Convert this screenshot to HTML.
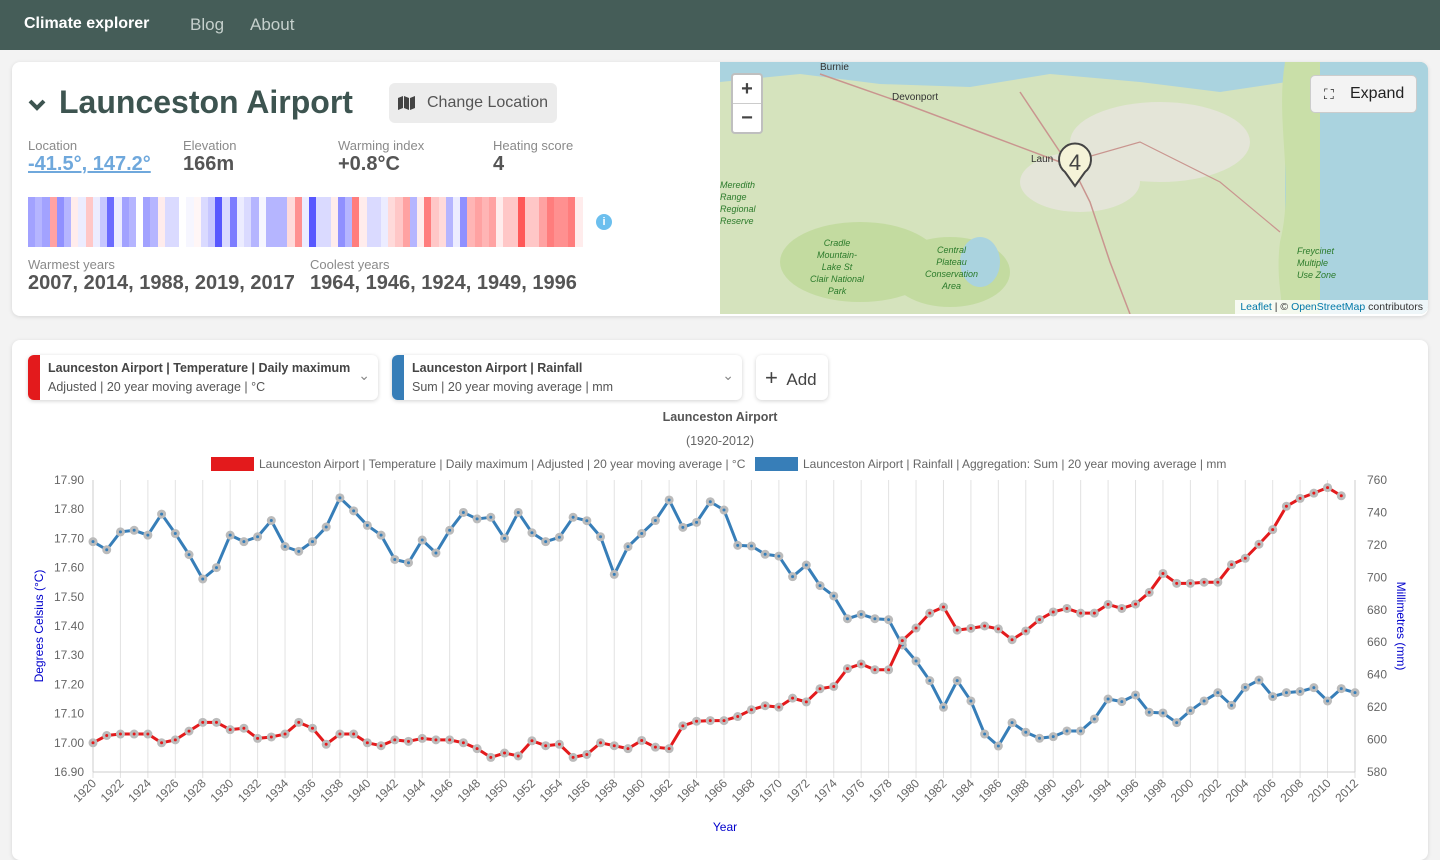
<!DOCTYPE html>
<html><head><meta charset="utf-8">
<style>
*{box-sizing:border-box}
body{margin:0;width:1440px;height:845px;overflow:hidden;background:#f3f3f3;font-family:"Liberation Sans",sans-serif;color:#444}
.nav{position:absolute;left:0;top:0;width:1440px;height:50px;background:#455d58}
.nav .brand{position:absolute;left:24px;top:15px;color:#fff;font-weight:bold;font-size:16px}
.nav a{position:absolute;top:15px;color:#c5d0cc;font-size:17px;text-decoration:none}
.card{position:absolute;background:#fff;border-radius:8px;box-shadow:0 1px 4px rgba(0,0,0,.12)}
.lbl{position:absolute;font-size:13px;color:#8a8a8a}
.val{position:absolute;font-size:20px;font-weight:bold;color:#555}
.sel{position:absolute;top:355px;height:45px;background:#fff;border-radius:6px;box-shadow:0 1px 4px rgba(0,0,0,.18);overflow:hidden}
.sel .bar{position:absolute;left:0;top:0;width:12px;height:45px}
.sel .t1{position:absolute;left:20px;top:6px;font-size:12.5px;font-weight:bold;color:#444}
.sel .t2{position:absolute;left:20px;top:25px;font-size:12.5px;color:#555}
.sel .chev{position:absolute;right:8px;top:12px;font-size:14px;color:#888}
</style></head><body>
<div class="nav">
<span class="brand">Climate explorer</span>
<a style="left:190px">Blog</a>
<a style="left:250px">About</a>
</div>

<div class="card" style="left:12px;top:62px;width:1416px;height:254px"></div>
<svg style="position:absolute;left:28px;top:98px" width="18" height="14"><path d="M2 3 L9 10 L16 3" stroke="#3d5450" stroke-width="4" fill="none"/></svg>
<div style="position:absolute;left:59px;top:84px;font-size:32px;font-weight:bold;color:#3d5450">Launceston Airport</div>
<div style="position:absolute;left:389px;top:83px;width:168px;height:40px;background:#ececec;border-radius:6px;font-size:16px;color:#555;line-height:40px;padding-left:38px"><svg style="position:absolute;left:9px;top:13px" width="18" height="14"><path d="M0 2 L5 0 L5 12 L0 14Z M6 0 L11 2 L11 14 L6 12Z M12 2 L17 0 L17 12 L12 14Z" fill="#444"/></svg>Change Location</div>

<div class="lbl" style="left:28px;top:138px">Location</div>
<div class="val" style="left:28px;top:153px;color:#6fa8dc;text-decoration:underline">-41.5°, 147.2°</div>
<div class="lbl" style="left:183px;top:138px">Elevation</div>
<div class="val" style="left:183px;top:153px">166m</div>
<div class="lbl" style="left:338px;top:138px">Warming index</div>
<div class="val" style="left:338px;top:153px">+0.8°C</div>
<div class="lbl" style="left:493px;top:138px">Heating score</div>
<div class="val" style="left:493px;top:153px">4</div>
<div id="stripes" style="position:absolute;left:28px;top:197px;width:555px;height:50px;display:flex"></div>
<div style="position:absolute;left:596px;top:214px;width:16px;height:16px;border-radius:50%;background:#6cbfee;color:#fff;font-size:11px;font-weight:bold;text-align:center;line-height:16px">i</div>
<div class="lbl" style="left:28px;top:257px">Warmest years</div>
<div class="val" style="left:28px;top:272px">2007, 2014, 1988, 2019, 2017</div>
<div class="lbl" style="left:310px;top:257px">Coolest years</div>
<div class="val" style="left:310px;top:272px">1964, 1946, 1924, 1949, 1996</div>

<div style="position:absolute;left:720px;top:62px;width:708px;height:252px;overflow:hidden;background:#d5e3bd;border-radius:0 8px 8px 0">
<svg width="708" height="252" style="position:absolute;left:0;top:0">
<path d="M0 0 L708 0 L708 10 L600 15 L500 30 L420 20 L330 12 L250 25 L160 22 L80 12 L0 20Z" fill="#aad3df"/>
<rect x="565" y="0" width="143" height="252" fill="#aad3df"/>
<path d="M565 0 C555 60 575 120 560 180 C555 220 565 240 560 252 L600 252 L600 0Z" fill="#c9dfa8"/>
<ellipse cx="140" cy="200" rx="80" ry="40" fill="#c3dba0"/>
<ellipse cx="230" cy="210" rx="60" ry="35" fill="#c3dba0"/>
<ellipse cx="440" cy="80" rx="90" ry="40" fill="#e4e5d8"/>
<ellipse cx="360" cy="120" rx="60" ry="30" fill="#e4e5d8"/>
<ellipse cx="260" cy="200" rx="20" ry="25" fill="#aad3df"/>
<path d="M300 30 L340 90 L355 110 L370 140 L390 200 L410 252" stroke="#c9958f" stroke-width="1.5" fill="none"/>
<path d="M100 12 L180 40 L260 70 L340 100" stroke="#c9958f" stroke-width="1.5" fill="none"/>
<path d="M350 100 L420 80 L500 120 L560 170" stroke="#c9958f" stroke-width="1.2" fill="none"/>
</svg>
<div style="position:absolute;left:100px;top:0;font-size:10px;color:#333">Burnie</div>
<div style="position:absolute;left:172px;top:30px;font-size:10px;color:#333">Devonport</div>
<div style="position:absolute;left:311px;top:92px;font-size:10px;color:#333">Laun</div>
<div style="position:absolute;left:0;top:117px;font-size:9px;color:#2a7a2a;font-style:italic;line-height:12px">Meredith<br>Range<br>Regional<br>Reserve</div>
<div style="position:absolute;left:90px;top:175px;font-size:9px;color:#2a7a2a;font-style:italic;line-height:12px;text-align:center">Cradle<br>Mountain-<br>Lake St<br>Clair National<br>Park</div>
<div style="position:absolute;left:205px;top:182px;font-size:9px;color:#2a7a2a;font-style:italic;line-height:12px;text-align:center">Central<br>Plateau<br>Conservation<br>Area</div>
<div style="position:absolute;left:577px;top:183px;font-size:9px;color:#2a7a2a;font-style:italic;line-height:12px">Freycinet<br>Multiple<br>Use Zone</div>
<svg style="position:absolute;left:337px;top:80px" width="36" height="46"><path d="M18 44 L8 30 A16 16 0 1 1 28 30Z" fill="#f5f3d8" stroke="#444" stroke-width="2"/><text x="18" y="28" text-anchor="middle" font-size="22" font-family="Liberation Sans" fill="#444">4</text></svg>
<div style="position:absolute;left:11px;top:11px;width:32px;height:61px;background:#fff;border:2px solid rgba(0,0,0,.25);border-radius:4px">
<div style="height:29px;border-bottom:1px solid #ccc;text-align:center;font-size:20px;font-weight:bold;line-height:28px">+</div>
<div style="text-align:center;font-size:20px;font-weight:bold;line-height:28px">−</div></div>
<div style="position:absolute;left:590px;top:13px;width:107px;height:38px;background:#f3f3f3;border:1px solid #ccc;border-radius:5px;font-size:16px;color:#222;line-height:36px;padding-left:39px"><span style="position:absolute;left:13px;top:0;font-size:14px">⛶</span>Expand</div>
<div style="position:absolute;right:0;bottom:0;background:rgba(255,255,255,.8);font-size:10.5px;padding:1px 5px;color:#333"><span style="color:#0078a8">Leaflet</span> | © <span style="color:#0078a8">OpenStreetMap</span> contributors</div>
</div>

<div class="card" style="left:12px;top:340px;width:1416px;height:520px"></div>
<div class="sel" style="left:28px;width:350px"><div class="bar" style="background:#e31a1c"></div><div class="t1">Launceston Airport | Temperature | Daily maximum</div><div class="t2">Adjusted | 20 year moving average | °C</div><div class="chev">⌄</div></div>
<div class="sel" style="left:392px;width:350px"><div class="bar" style="background:#377eb8"></div><div class="t1">Launceston Airport | Rainfall</div><div class="t2">Sum | 20 year moving average | mm</div><div class="chev">⌄</div></div>
<div class="sel" style="left:756px;width:72px;font-size:17px;line-height:45px;padding-left:9px;color:#444"><span style="font-size:22px">+</span>&nbsp; Add</div>

<svg id="chart" width="1440" height="845" style="position:absolute;left:0;top:0" font-family="Liberation Sans"></svg>

<script>
const stripeVals=[-0.5,-0.4,-0.5,0.5,-0.6,-0.4,0.1,-0.1,0.3,-0.1,-0.3,-0.8,-0.1,-0.5,-0.4,0,-0.5,-0.4,0.1,-0.2,-0.2,0,-0.05,0.05,-0.2,-0.3,-0.9,-0.2,-0.7,-0.1,-0.2,-0.4,-0.05,-0.4,-0.4,-0.4,0.2,0.6,-0.1,-0.9,-0.2,-0.2,0.1,-0.6,-0.4,0.7,0.1,-0.2,-0.2,-0.1,0.2,0.3,0.5,-0.4,0.1,0.7,0.3,0.2,-0.4,-0.1,-0.6,0.4,0.5,0.4,0.5,0.1,0.3,0.3,0.9,0.3,0.3,0.5,0.7,0.6,0.6,0.7,0.1];
const sd=document.getElementById('stripes');
stripeVals.forEach(v=>{const d=document.createElement('div');d.style.flex='1';const a=Math.min(1,Math.abs(v));const k=Math.round(255-(255-60)*a*0.95);const c=v>=0?`rgb(255,${k},${k})`:`rgb(${k},${k},255)`;d.style.background=c;


sd.appendChild(d);});
</script>
<script>
const years=[];for(let y=1920;y<=2012;y++)years.push(y);
const tempValues=[17.00,17.025,17.03,17.03,17.03,17.00,17.01,17.04,17.07,17.07,17.045,17.05,17.015,17.02,17.03,17.07,17.05,16.995,17.03,17.03,17.00,16.99,17.01,17.005,17.015,17.01,17.01,17.00,16.98,16.95,16.965,16.955,17.007,16.99,16.995,16.95,16.96,17.0,16.99,16.98,17.008,16.985,16.98,17.058,17.074,17.076,17.076,17.09,17.113,17.127,17.122,17.153,17.14,17.185,17.193,17.254,17.27,17.25,17.25,17.35,17.393,17.444,17.465,17.386,17.392,17.4,17.39,17.353,17.383,17.422,17.448,17.46,17.444,17.444,17.474,17.46,17.475,17.515,17.58,17.546,17.546,17.55,17.55,17.61,17.632,17.68,17.73,17.81,17.837,17.855,17.874,17.846];
const rainValues=[722,717,728,729,726,739,727,714,699,706,726,722,725,735,719,716,722,731,749,741,732,726,711,709,723,715,729,740,736,737,724,740,727.5,722,724.7,737,734.9,725,701.8,718.9,727,735,747.7,730.8,733.9,746.6,741.5,719.7,719.3,714.2,713.1,700.4,707.6,694.9,688.5,674.5,677.2,674.5,673.9,658.3,648.4,636.3,619.9,636.3,623.8,603.4,596,610.4,604.5,600.8,601.8,605.3,605.3,612.7,625,623.4,627.5,616.8,616.4,610.4,617.8,623.8,628.9,621.1,632.2,636.7,626.5,628.9,629.6,632,623.8,631.4,628.9];
const leftTicks=[17.90,17.80,17.70,17.60,17.50,17.40,17.30,17.20,17.10,17.00,16.90];
const rightTicks=[760,740,720,700,680,660,640,620,600,580];
const X0=93,X1=1355,Y0=480,Y1=772;
const xS=y=>X0+(y-1920)/(2012-1920)*(X1-X0);
const yL=v=>Y0+(17.9-v)/(17.9-16.9)*(Y1-Y0);
const yR=v=>Y0+(760-v)/(760-580)*(Y1-Y0);
const svg=document.getElementById('chart');const NS='http://www.w3.org/2000/svg';
function mk(t,a,p){const e=document.createElementNS(NS,t);for(const k in a)e.setAttribute(k,a[k]);(p||svg).appendChild(e);return e;}
function tx(x,y,s,a,p){const e=mk('text',Object.assign({x:x,y:y,'font-size':12,fill:'#666'},a||{}),p);e.textContent=s;return e;}
let t=tx(720,421,'Launceston Airport',{'text-anchor':'middle','font-weight':'bold','font-size':12.5,fill:'#555'});


t=tx(720,445,'(1920-2012)',{'text-anchor':'middle','font-size':12.5});


let lg=mk('g',{});


mk('rect',{x:211,y:457,width:43,height:14,fill:'#e31a1c'},lg);
tx(259,468,'Launceston Airport | Temperature | Daily maximum | Adjusted | 20 year moving average | °C',{},lg);
lg=mk('g',{});


mk('rect',{x:755,y:457,width:43,height:14,fill:'#377eb8'},lg);
tx(803,468,'Launceston Airport | Rainfall | Aggregation: Sum | 20 year moving average | mm',{},lg);
for(let y=1920;y<=2012;y+=2){const x=xS(y);
 mk('line',{x1:x,y1:Y0,x2:x,y2:Y1+6,stroke:'#e2e2e2'});
 const l=tx(0,0,String(y),{'text-anchor':'end',transform:`translate(${x+4},${Y1+12}) rotate(-45)`});
 
 }
mk('line',{x1:X0,y1:Y0,x2:X0,y2:Y1,stroke:'#ccc'});
mk('line',{x1:X1,y1:Y0,x2:X1,y2:Y1,stroke:'#ccc'});
mk('line',{x1:X0,y1:Y1,x2:X1,y2:Y1,stroke:'#ccc'});
leftTicks.forEach(v=>{const l=tx(84,yL(v)+4,v.toFixed(2),{'text-anchor':'end'});
 
 });
rightTicks.forEach(v=>{const l=tx(1367,yR(v)+4,String(v),{});
 
 });
t=tx(0,0,'Degrees Celsius (°C)',{'text-anchor':'middle',fill:'#00c',transform:'translate(43,626) rotate(-90)'});


t=tx(0,0,'Millimetres (mm)',{'text-anchor':'middle',fill:'#00c',transform:'translate(1397,626) rotate(90)'});


t=tx(725,831,'Year',{'text-anchor':'middle',fill:'#00c'});


function series(vals,ys,color,name){
 const pts=vals.map((v,i)=>xS(years[i])+','+ys(v)).join(' ');
 const pl=mk('polyline',{points:pts,fill:'none',stroke:color,'stroke-width':3,'stroke-linejoin':'round'});
 
 
 vals.forEach((v,i)=>{
  const c=mk('circle',{cx:xS(years[i]),cy:ys(v),r:4.5,fill:'#bbb'});
  
  
  const d=mk('circle',{cx:xS(years[i]),cy:ys(v),r:1.5,fill:color});
  
  
 });
}
series(rainValues,yR,'#377eb8','rainfall');
series(tempValues,yL,'#e31a1c','temperature');
</script>
</body></html>
